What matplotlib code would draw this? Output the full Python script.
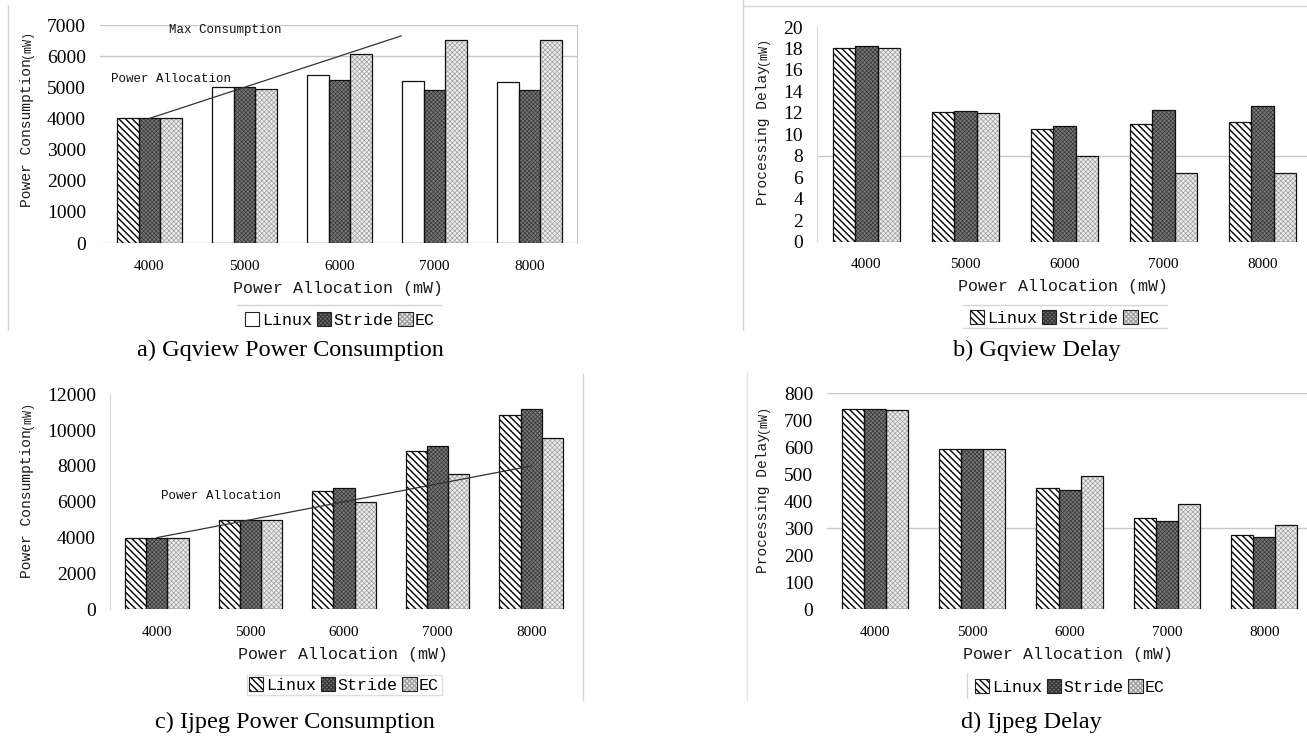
import matplotlib
matplotlib.use('Agg')
import matplotlib.pyplot as plt
from matplotlib.patches import Rectangle
from matplotlib.lines import Line2D
import numpy as np

# ---------------- data ----------------
alloc_labels = ['4000', '5000', '6000', '7000', '8000']
alloc_values = [4000, 5000, 6000, 7000, 8000]
series_names = ['Linux', 'Stride', 'EC']

gq_power_linux = [4000, 5000, 5400, 5200, 5180]
gq_power_stride = [4000, 5020, 5240, 4920, 4900]
gq_power_ec = [4000, 4950, 6070, 6520, 6520]

gq_delay_linux = [18.0, 12.1, 10.5, 11.0, 11.1]
gq_delay_stride = [18.25, 12.15, 10.8, 12.3, 12.6]
gq_delay_ec = [18.0, 11.95, 8.0, 6.4, 6.4]

ij_power_linux = [4000, 4990, 6630, 8860, 10850]
ij_power_stride = [4000, 4990, 6760, 9120, 11190]
ij_power_ec = [4000, 4970, 6010, 7540, 9550]

ij_delay_linux = [742, 595, 449, 339, 275]
ij_delay_stride = [742, 595, 442, 326, 268]
ij_delay_ec = [739, 595, 492, 389, 312]

gq_alloc_line_x = [0, 2.65]
gq_alloc_line_y = [4000, 6650]

W, H = 1307, 736
fig = plt.figure(figsize=(W / 100, H / 100), dpi=100)

SERIF = ['Liberation Serif', 'DejaVu Serif']
MONO = ['Liberation Mono', 'DejaVu Sans Mono']
GRID = '#c8c8c8'
FAINT = '#d6d6d6'


def fx(px):
    return px / W


def fy(py):
    return 1 - py / H


def add_axes(l, t, r, b):
    return fig.add_axes([fx(l), fy(b), fx(r) - fx(l), (b - t) / H])


LINUX_HATCH = '\\' * 5
STYLES = {
    'Linux': dict(fc='white', hatch=LINUX_HATCH, hc='black', hlw=1.0),
    'Linux_plain': dict(fc='white', hatch=None, hc='black', hlw=1.0),
    'Stride': dict(fc='#767676', hatch='xxxxxxxx', hc='#3a3a3a', hlw=0.5),
    'EC': dict(fc='#ebebeb', hatch='xxxxxxx', hc='#a0a0a0', hlw=0.5),
}


def bar_layer(ax, xs, vals, w, st, edge_lw=0.9, hatch_first=False):
    b1 = ax.bar(xs, vals, w, color=st['fc'], hatch=st['hatch'], edgecolor=st['hc'],
                linewidth=0, zorder=3)
    for p in b1:
        if hasattr(p, 'set_hatch_linewidth'):
            p.set_hatch_linewidth(st['hlw'])
    if hatch_first:
        b1[0].set_hatch(LINUX_HATCH)
        b1[0].set_edgecolor('black')
        if hasattr(b1[0], 'set_hatch_linewidth'):
            b1[0].set_hatch_linewidth(1.0)
    ax.bar(xs, vals, w, fill=False, edgecolor='#111111', linewidth=edge_lw, zorder=4)


def legend_handle(st):
    p1 = Rectangle((0, 0), 1, 1, facecolor=st['fc'], hatch=st['hatch'],
                   edgecolor=st['hc'], linewidth=0)
    if hasattr(p1, 'set_hatch_linewidth'):
        p1.set_hatch_linewidth(st['hlw'])
    p2 = Rectangle((0, 0), 1, 1, fill=False, edgecolor='#222222', linewidth=0.8)
    return (p1, p2)


def panel(ax, vals_list, ymax, ystep, xlim, linux_plain=False, first_hatched=False):
    x = np.arange(len(alloc_labels))
    w = 0.227
    keys = ['Linux_plain' if linux_plain else 'Linux', 'Stride', 'EC']
    for k, (vals, key) in enumerate(zip(vals_list, keys)):
        xs = x + (k - 1) * w
        bar_layer(ax, xs, vals, w, STYLES[key],
                  hatch_first=(linux_plain and first_hatched and k == 0))
    ax.set_xlim(*xlim)
    ax.set_ylim(0, ymax)
    ax.set_yticks(np.arange(0, ymax + ystep / 2, ystep))
    ax.set_xticks(x)
    ax.set_xticklabels(alloc_labels, fontfamily=SERIF, fontsize=11)
    for t in ax.get_yticklabels():
        t.set_fontfamily(SERIF)
        t.set_fontsize(14)
    ax.tick_params(axis='both', length=0)
    ax.tick_params(axis='y', pad=10)
    ax.tick_params(axis='x', pad=12)
    for s in ax.spines.values():
        s.set_visible(False)
    ax.set_facecolor('none')
    return keys


def ylabel2(ax, px, py_bottom, main):
    t1 = ax.annotate(main, xy=(fx(px), fy(py_bottom)), xycoords='figure fraction',
                     rotation=90, ha='center', va='bottom', fontfamily=MONO,
                     fontsize=10.5, color='#1a1a1a', annotation_clip=False)
    ax.annotate('(mW)', xy=(0.5, 1.0), xycoords=t1, rotation=90, ha='center',
                va='bottom', fontfamily=MONO, fontsize=8.5, color='#1a1a1a',
                annotation_clip=False)


def xlabel(ax, cx_px, cy_px):
    fig.text(fx(cx_px), fy(cy_px), 'Power Allocation (mW)', ha='center', va='center',
             fontfamily=MONO, fontsize=12, color='#1a1a1a')


def legend(ax, keys, cx_px, cy_px, frame=False):
    handles = [legend_handle(STYLES[k]) for k in keys]
    leg = fig.legend(handles, series_names, loc='center',
                     bbox_to_anchor=(fx(cx_px), fy(cy_px)), bbox_transform=fig.transFigure,
                     ncol=3, frameon=frame, prop={'family': MONO, 'size': 12},
                     handlelength=0.85, handleheight=0.85, handletextpad=0.15,
                     columnspacing=0.3, borderpad=0.15, fancybox=False,
                     borderaxespad=0)
    if frame:
        leg.get_frame().set_edgecolor(FAINT)
        leg.get_frame().set_linewidth(1.0)
    return leg


def caption(cx_px, cy_px, s):
    fig.text(fx(cx_px), fy(cy_px), s, ha='center', va='center', fontfamily=SERIF,
             fontsize=17.5, color='black')


def fline(x0, y0, x1, y1, color=FAINT, lw=1.0):
    fig.add_artist(Line2D([fx(x0), fx(x1)], [fy(y0), fy(y1)], color=color, lw=lw,
                          transform=fig.transFigure))


# ---------------- a) Gqview Power Consumption ----------------
axa = add_axes(100, 25, 577, 243)
keys_a = panel(axa, [gq_power_linux, gq_power_stride, gq_power_ec], 7000, 1000,
               (-0.52, 4.5), linux_plain=True, first_hatched=True)
for yv in [6000, 7000]:
    axa.axhline(yv, color=GRID, lw=1.0, zorder=1)
axa.axhline(0, color=GRID, lw=1.0, zorder=1)
axa.spines['right'].set_visible(True)
axa.spines['right'].set_color(GRID)
axa.plot(gq_alloc_line_x, gq_alloc_line_y, color='#333333', lw=0.9, zorder=5)
axa.text(0.21, 6840, 'Max Consumption', fontfamily=MONO, fontsize=9, va='center',
         ha='left', color='#111111')
axa.text(-0.40, 5265, 'Power Allocation', fontfamily=MONO, fontsize=9, va='center',
         ha='left', color='#111111')
ylabel2(axa, 27, 207, 'Power Consumption')
xlabel(axa, 338, 288)
legend(axa, keys_a, 340, 320)
fline(237, 305, 441, 305)
fline(8, 5, 8, 330)
caption(290, 350, 'a) Gqview Power Consumption')

# ---------------- b) Gqview Delay ----------------
axb = add_axes(817, 27, 1307, 241.5)
keys_b = panel(axb, [gq_delay_linux, gq_delay_stride, gq_delay_ec], 20, 2,
               (-0.5, 4.45))
axb.axhline(8, color=GRID, lw=1.0, zorder=1)
axb.spines['left'].set_visible(True)
axb.spines['left'].set_color(FAINT)
ylabel2(axb, 763, 205, 'Processing Delay')
xlabel(axb, 1063, 287)
legend(axb, keys_b, 1065, 318)
fline(963, 305, 1167, 305)
fline(963, 328, 1167, 328)
fline(743, 6, 1307, 6)
fline(743, 0, 743, 330)
caption(1037, 350, 'b) Gqview Delay')

# ---------------- c) Ijpeg Power Consumption ----------------
axc = add_axes(110, 394.3, 578, 609.3)
keys_c = panel(axc, [ij_power_linux, ij_power_stride, ij_power_ec], 12000, 2000,
               (-0.5, 4.5))
axc.spines['left'].set_visible(True)
axc.spines['left'].set_color(FAINT)
axc.plot(np.arange(len(alloc_values)), alloc_values, color='#333333', lw=0.9, zorder=5)
axc.text(0.05, 6320, 'Power Allocation', fontfamily=MONO, fontsize=9, va='center',
         ha='left', color='#111111')
ylabel2(axc, 27, 578, 'Power Consumption')
xlabel(axc, 343, 655)
legend(axc, keys_c, 344, 685, frame=True)
fline(583, 374, 583, 700)
caption(295, 722, 'c) Ijpeg Power Consumption')

# ---------------- d) Ijpeg Delay ----------------
axd = add_axes(827, 393.3, 1307, 609.3)
keys_d = panel(axd, [ij_delay_linux, ij_delay_stride, ij_delay_ec], 800, 100,
               (-0.493, 4.44))
for yv in [300, 800]:
    axd.axhline(yv, color=GRID, lw=1.0, zorder=1)
ylabel2(axd, 763, 573, 'Processing Delay')
xlabel(axd, 1068, 654)
legend(axd, keys_d, 1070, 687)
fline(967, 673, 967, 698)
fline(747, 373, 747, 700, color='#e6e6e6')
caption(1031, 722, 'd) Ijpeg Delay')

fig.savefig('out.png', dpi=100)
